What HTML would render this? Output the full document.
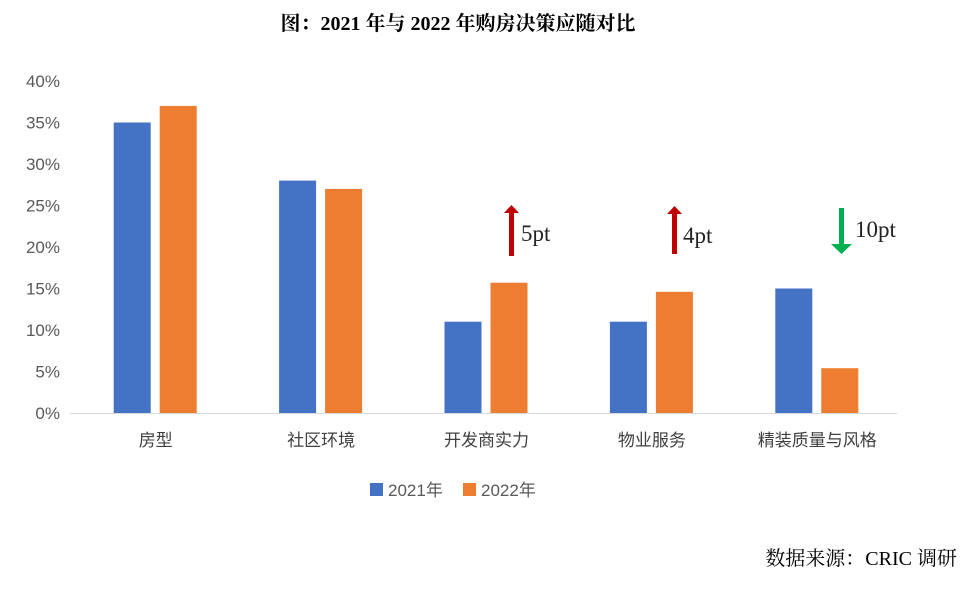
<!DOCTYPE html>
<html><head><meta charset="utf-8"><style>
body{margin:0;background:#fff;}
.s{font-family:"Liberation Sans","Noto Sans CJK SC",sans-serif;}
.r{font-family:"Liberation Serif","Noto Serif CJK SC",serif;}
</style></head><body>
<svg width="972" height="586" viewBox="0 0 972 586">
<text class="r" x="458" y="30" text-anchor="middle" font-size="20" font-weight="bold" fill="#000">图：2021 年与 2022 年购房决策应随对比</text>
<g id="axis"></g>
<g id="bars"></g>
<line x1="70" y1="413.5" x2="897" y2="413.5" stroke="#d9d9d9" stroke-width="1"/>
<g>
<rect x="509" y="212" width="5" height="44" fill="#c00000"/><polygon points="504,213 511.5,205 519,213" fill="#c00000"/>
<text class="r" x="521" y="241" font-size="23" fill="#222">5pt</text></g>
<g>
<rect x="672" y="213" width="5" height="41" fill="#c00000"/><polygon points="667,214 674.5,206 682,214" fill="#c00000"/>
<text class="r" x="683" y="243" font-size="23" fill="#222">4pt</text></g>
<g>
<rect x="839" y="208" width="5" height="38" fill="#00b050"/><polygon points="831,244 841.5,254 852,244" fill="#00b050"/>
<text class="r" x="855" y="237" font-size="23" fill="#222">10pt</text></g>
<g>
<rect x="370" y="483" width="13" height="13" fill="#4472c4"/>
<text class="s" x="388" y="496" font-size="17" fill="#595959">2021年</text>
<rect x="463" y="483" width="13" height="13" fill="#ed7d31"/>
<text class="s" x="481" y="496" font-size="17" fill="#595959">2022年</text>
</g>
<text class="r" x="957" y="565" text-anchor="end" font-size="20" fill="#000">数据来源：CRIC 调研</text>
</svg>
<script>
const categories=["房型","社区环境","开发商实力","物业服务","精装质量与风格"];
const values2021=[35,28,11,11,15];
const values2022=[37,27,15.7,14.6,5.4];
const ticks=[0,5,10,15,20,25,30,35,40];
const NS="http://www.w3.org/2000/svg";
const x0=70,x1=897,y0=413,yTop=81,ymax=40;
const y=v=>y0-(v/ymax)*(y0-yTop);
const band=(x1-x0)/categories.length;
const cx=i=>x0+band*(i+0.5);
function mk(t,a,p){const e=document.createElementNS(NS,t);for(const k in a)e.setAttribute(k,a[k]);p.appendChild(e);return e;}
const ax=document.getElementById('axis'),bg=document.getElementById('bars');
ticks.forEach(t=>{
 const e=mk('text',{x:60,y:y(t)+6,'text-anchor':'end','font-size':17,fill:'#595959',class:'s'},ax);
 e.textContent=t+'%';
 
 
});
categories.forEach((c,i)=>{
 const b1=mk('rect',{x:cx(i)-39,y:y(values2021[i]),width:37,height:y0-y(values2021[i]),fill:'#4472c4'},bg);
 
 
 const b2=mk('rect',{x:cx(i)+7,y:y(values2022[i]),width:37,height:y0-y(values2022[i]),fill:'#ed7d31'},bg);
 
 
 const t=mk('text',{x:cx(i)+3,y:446,'text-anchor':'middle','font-size':17,fill:'#404040',class:'s'},ax);
 t.textContent=c;
 
 
});
</script>
</body></html>
